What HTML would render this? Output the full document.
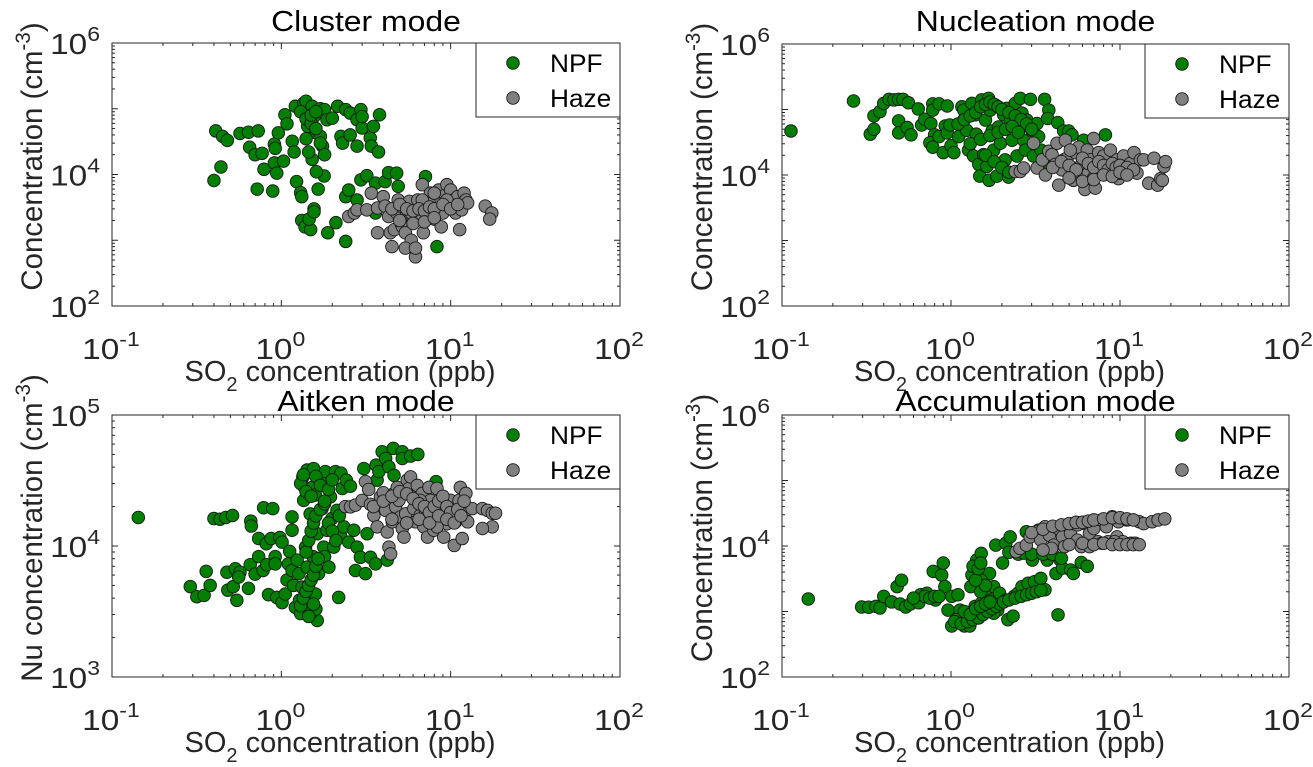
<!DOCTYPE html>
<html><head><meta charset="utf-8">
<style>
html,body{margin:0;padding:0;background:#fff;}
svg{display:block;font-family:"Liberation Sans",Arial,sans-serif;}
</style></head>
<body>
<svg id="chart" width="1313" height="767" viewBox="0 0 1313 767" xmlns="http://www.w3.org/2000/svg"></svg>
<script>
// ---- Panel 1: Cluster mode ----
const p1NpfX=[0.41,0.45,0.48,0.44,0.40,0.57,0.64,0.73,0.65,0.70,0.77,0.72,0.79,0.89,0.91,0.92,0.96,0.91,0.94,1.03,1.05,1.08,1.16,1.19,1.21,1.23,1.30,1.32,1.32,1.38,1.49,1.46,1.56,1.56,1.65,1.79,1.52,1.61,1.36,1.40,1.52,1.56,1.43,1.70,1.80,1.61,1.70,1.75,1.80,1.86,2.0,2.15,2.25,2.3,2.4,2.55,2.55,2.8,2.8,2.95,3.0,3.0,3.35,3.4,3.5,3.75,3.8,1.88,2.1,2.4,2.4,2.5,2.95,3.2,3.6,4.1,4.3,4.8,4.9,7.1,8.3,2.8,3.6,1.3,1.4,1.5,1.6,1.7,1.5,1.6,1.4,1.45];
const p1NpfY=[4.6e4,3.8e4,3.3e4,1.3e4,8.1e3,4.2e4,4.4e4,4.6e4,2.6e4,2.0e4,2.1e4,6.0e3,1.2e4,5.6e3,2.9e4,2.5e4,4.3e4,1.5e4,1.05e4,1.6e4,8.1e4,5.9e4,3.2e4,2.2e4,1.09e5,7.8e3,5.3e3,4.6e3,2.0e3,1.6e3,1.45e3,2.1e3,3.0e3,2.7e3,6.0e3,9.5e3,1.7e4,1.1e4,1.22e5,1.3e5,1.09e5,7.6e4,5.4e4,1.0e5,9.7e4,4.3e4,3.8e4,2.7e4,2.0e4,6.8e4,7.2e4,1.09e5,3.8e4,3.0e4,9.7e4,8.6e4,4.0e4,2.7e4,6.8e4,9.7e4,5.1e4,7.6e4,3.6e4,2.7e4,5.4e4,2.2e4,8.1e4,1.3e3,1.85e3,9.6e2,4.6e3,5.8e3,8.3e3,9.6e3,7.4e3,7.8e3,1.07e4,1.05e4,6.6e3,9.3e3,8e2,4.1e3,2.6e3,9e4,7e4,6e4,5e4,3e4,8e4,9e4,3.5e4,2.2e4];
const p1HazeX=[2.5,2.7,2.8,3.2,3.4,3.7,4.0,4.1,4.3,4.4,4.5,4.65,4.8,4.9,5.1,5.2,5.4,5.5,5.7,5.85,6.0,6.2,6.4,6.6,6.8,6.9,7.1,7.3,7.6,7.8,8.0,8.5,8.8,9.0,9.3,9.5,9.8,10.0,10.4,10.7,11,11.3,11.6,12,12.3,12.6,3.7,5.4,16,17.5,17,8.8,6.2,6.8,8.0,9.5,5.1,5.85,4.5,5,5.5,6,6.5,7,7.5,8,9,10,11,5,6,7,8];
const p1HazeY=[2.3e3,2.6e3,2.9e3,2.9e3,5.2e3,3.1e3,4.6e3,3.3e3,2.3e3,1.3e3,8e2,1.45e3,2.6e3,4.1e3,1.8e3,1.6e3,1.3e3,2.6e3,3.9e3,1.0e3,2.1e3,5.6e2,4.1e3,2.3e3,7.0e3,1.3e3,3.3e3,2.5e3,5.2e3,3.7e3,2.1e3,5.8e3,4.1e3,2.6e3,4.9e3,7.0e3,3.3e3,5.8e3,4.1e3,2.6e3,4.6e3,1.45e3,2.9e3,5.2e3,4.1e3,3.7e3,1.3e3,7.6e2,3.3e3,2.6e3,2.1e3,1.6e3,7.6e2,4.1e3,5.2e3,4.1e3,3.3e3,2.6e3,3e3,3.5e3,3e3,2.8e3,3e3,2.8e3,3.2e3,3e3,3.5e3,3e3,3.5e3,2e3,1.8e3,1.9e3,2.2e3];
// ---- Panel 2: Nucleation mode ----
const p2NpfX=[0.113,0.265,0.333,0.35,0.35,0.38,0.40,0.43,0.46,0.49,0.52,0.56,0.49,0.49,0.55,0.58,0.64,0.67,0.70,0.76,0.78,0.78,0.85,0.95,0.80,0.75,0.78,0.85,0.90,0.925,0.95,0.985,1.0,1.04,1.11,1.16,1.19,1.19,1.24,1.27,1.33,1.36,1.39,1.41,1.46,1.48,1.52,1.56,1.60,1.63,1.67,1.68,1.71,1.75,1.79,1.83,1.87,1.91,1.96,2.0,2.05,2.09,2.14,2.19,2.24,2.30,2.40,2.46,2.52,2.57,2.63,2.69,2.75,2.81,2.95,3.01,3.08,3.23,3.30,3.41,3.58,3.79,3.73,4.28,4.64,4.97,5.2,6.1,8.2,4.64,3.79,1.1,1.2,1.3,1.4,1.5,1.6,1.7,1.8,1.9,2.0,2.2,2.4,2.6,2.8,3.0,1.3,1.5,1.7,1.9,2.1,2.3,2.5,1.6,1.8,2.0,2.2];
const p2NpfY=[4.7e4,1.35e5,4.2e4,5.0e4,8.0e4,9.3e4,1.24e5,1.43e5,1.4e5,1.43e5,1.43e5,1.27e5,6.7e4,4.4e4,5.3e4,4.1e4,1.02e5,5.8e4,7.1e4,6.1e4,1.22e5,9.8e4,1.22e5,1.13e5,4.1e4,3.1e4,2.65e4,3.85e4,2.2e4,5.6e4,4.4e4,5.8e4,2.8e4,2.2e4,3.85e4,1.1e5,9.8e4,6.9e4,4.8e4,2.4e4,1.24e5,1.95e4,8.3e4,4.2e4,1.45e4,9.6e3,1.4e5,2.05e4,6.9e4,1.35e4,1.48e5,8.3e3,9.8e4,4.7e4,2.4e4,1.17e5,9.6e3,5.4e4,3.05e4,1.35e4,8.3e4,1.7e4,1.04e5,9.3e3,6.7e4,3.4e4,1.24e5,1.95e4,4.8e4,1.48e5,8.8e4,3.4e4,2.4e4,6.9e4,1.43e5,4.8e4,1.95e4,6.1e4,3.85e4,2.4e4,1.43e5,9.8e4,7.3e4,6.3e4,4.7e4,4.7e4,4.1e4,3.4e4,4.1e4,1.7e4,1.5e4,6e4,7e4,8e4,9e4,1.1e5,1.2e5,1.3e5,1.2e5,1.1e5,1e5,9e4,8e4,7e4,6e4,5e4,3e4,3.5e4,4e4,4.5e4,5e4,5.5e4,4.5e4,2e4,1.6e4,1.3e4,1.1e4];
const p2HazeX=[2.40,2.57,2.69,3.08,3.23,3.47,3.62,3.79,3.96,4.14,4.24,4.34,4.54,4.75,4.86,5.08,5.2,5.3,5.44,5.57,5.7,5.96,6.2,6.4,6.5,6.67,6.98,7.14,7.3,7.48,7.83,8.0,8.4,8.77,9.2,9.6,9.8,10.2,10.5,11.0,11.5,12.1,12.6,13.2,13.8,14.8,15.9,16.7,17.4,18.2,18.6,17.8,6.98,5.08,10.0,4,4.5,5,5.5,6,6.5,7,7.5,8,8.5,9,9.5,10,11,12,5,6,7,8,9,10,11];
const p2HazeY=[1.13e4,1.13e4,1.28e4,3.05e4,1.28e4,1.7e4,1.0e4,2.3e4,2.05e4,1.45e4,3.05e4,7.0e3,1.2e4,3.4e4,1.8e4,1.35e4,8.8e3,8.3e3,2.2e4,1.13e4,2.65e4,1.5e4,6.0e3,2.4e4,1.07e4,1.7e4,3.6e4,6.3e3,1.28e4,2.2e4,1.07e4,1.95e4,1.35e4,2.4e4,1.07e4,1.7e4,8.8e3,1.28e4,1.95e4,1.13e4,1.5e4,2.2e4,1.07e4,1.7e4,1.7e4,7.5e3,1.8e4,7.0e3,8.8e3,1.35e4,1.6e4,8.3e3,9.0e3,2.4e4,1.07e4,1.3e4,1.6e4,1.4e4,1.2e4,1.8e4,1.5e4,1.3e4,1.6e4,1.4e4,1.2e4,1.5e4,1.3e4,1.4e4,1.3e4,1.2e4,9e3,8e3,8.5e3,1e4,9.5e3,1.1e4,1e4];
// ---- Panel 3: Aitken mode ----
const p3NpfX=[0.143,0.40,0.435,0.47,0.515,0.66,0.665,0.786,0.89,0.735,0.815,0.87,0.98,1.01,1.157,1.157,0.29,0.317,0.35,0.36,0.38,0.477,0.483,0.52,0.535,0.546,0.57,0.56,0.64,0.655,0.70,0.735,0.78,0.82,0.84,0.92,0.92,0.94,1.01,1.055,1.08,1.10,1.12,1.157,1.18,1.21,1.24,1.27,1.28,1.30,1.325,1.34,1.355,1.37,1.39,1.42,1.42,1.45,1.47,1.48,1.52,1.54,1.55,1.59,1.59,1.63,1.63,1.66,1.70,1.74,1.78,1.80,1.82,1.86,1.91,1.95,1.99,2.04,2.09,2.13,2.18,2.23,2.25,2.29,2.34,2.42,2.50,2.56,2.68,2.74,2.80,2.93,3.07,3.14,3.21,3.36,3.60,3.63,3.68,3.77,3.94,4.13,4.22,4.32,4.58,4.63,5.18,5.18,5.8,6.4,8.2,1.3,1.35,1.4,1.45,1.5,1.55,1.6,1.65,1.4,1.45,1.5,1.55,1.6,1.7,1.8,1.9,2.0,2.1,2.2,1.3,1.35,1.4,1.5,1.6,1.7,1.8,1.9,2.0,1.5,1.6,1.45,1.55];
const p3NpfY=[1.65e4,1.62e4,1.6e4,1.65e4,1.71e4,1.55e4,1.42e4,1.96e4,1.93e4,1.14e4,1.04e4,1.14e4,1.16e4,1.07e4,1.32e4,1.67e4,4.9e3,4.1e3,4.2e3,6.4e3,5.0e3,6.3e3,4.6e3,4.9e3,6.7e3,3.85e3,6.3e3,5.8e3,4.75e3,7.2e3,6.1e3,8.3e3,6.5e3,7.2e3,4.25e3,8.3e3,7.3e3,4.05e3,3.7e3,4.3e3,5.5e3,7.3e3,9.1e3,6.5e3,5.0e3,3.4e3,7.8e3,6.15e3,3.85e3,3.05e3,4.85e3,3.37e4,2.23e4,2.8e4,9.8e3,3.8e4,6.9e3,4.3e3,3.4e3,1.76e4,2.8e4,8.3e3,3.9e4,2.45e4,4.3e3,1.24e4,2.7e3,6.15e3,3.18e4,1.93e4,9.8e3,8.3e3,3.7e4,1.32e4,6.9e3,2.37e4,1.62e4,9.8e3,3.7e4,1.87e4,4.05e3,1.21e4,3.6e4,2.75e4,1.4e4,3.18e4,1.07e4,2.86e4,1.32e4,6.5e3,9.8e3,8.2e3,3.9e4,6.15e3,1.24e4,8.2e3,7.3e3,4.14e4,3.18e4,3.7e4,5.24e4,4.66e4,7.8e3,4.02e4,5.56e4,3.46e4,5.24e4,4.66e4,4.86e4,5.0e4,3.1e4,3.5e3,4e3,4.5e3,5e3,5.5e3,6e3,7e3,8e3,9e3,1.1e4,1.3e4,1.5e4,1.7e4,1.9e4,2.1e4,1.5e4,1.3e4,1.1e4,1.7e4,3e4,3.5e4,2.6e4,2.4e4,3.4e4,2.9e4,2.2e4,2.7e4,3.2e4,3.1e3,3.3e3,2.9e3,3.6e3];
const p3HazeX=[2.39,2.56,2.74,3.0,3.14,3.28,3.36,3.52,3.68,3.85,4.0,4.13,4.22,4.32,4.42,4.52,4.63,4.73,4.84,4.95,5.06,5.18,5.3,5.42,5.54,5.67,5.8,5.93,6.06,6.2,6.35,6.5,6.6,6.8,6.95,7.1,7.3,7.45,7.6,7.8,7.96,8.2,8.3,8.7,8.9,9.1,9.5,9.8,10.0,10.5,10.7,11.2,11.4,11.7,12.0,12.3,12.6,13.4,15.4,16.5,17.6,18.4,17.6,15.4,8.3,6.6,3.5,4,4.5,5,5.5,6,6.5,7,7.5,8,8.5,9,9.5,10,11,12,4.5,5.5,6.5,7.5,8.5,9.5,10.5,11.5];
const p3HazeY=[2.0e4,1.99e4,2.05e4,2.23e4,3.1e4,2.7e4,2.08e4,1.71e4,1.4e4,2.37e4,2.55e4,1.87e4,1.28e4,9.8e3,8.7e3,1.53e4,2.52e4,1.99e4,2.8e4,2.23e4,1.67e4,1.36e4,1.17e4,1.76e4,3.18e4,2.75e4,3.37e4,2.37e4,1.93e4,1.53e4,2.9e4,2.1e4,1.71e4,2.52e4,1.4e4,1.87e4,1.17e4,2.8e4,2.23e4,1.62e4,1.32e4,1.96e4,2.75e4,1.71e4,2.23e4,1.17e4,1.48e4,1.93e4,2.23e4,1.01e4,1.53e4,2.23e4,2.8e4,1.14e4,1.76e4,2.52e4,1.53e4,1.93e4,1.93e4,1.87e4,1.78e4,1.78e4,1.4e4,1.36e4,1.4e4,2.23e4,2e4,2.2e4,2.4e4,2.6e4,2.5e4,2.3e4,2.1e4,2e4,1.8e4,2e4,2.2e4,2.4e4,2e4,1.8e4,1.9e4,2.2e4,1.6e4,1.5e4,1.6e4,1.5e4,1.7e4,1.6e4,1.5e4,1.7e4];
// ---- Panel 4: Accumulation mode ----
const p4NpfX=[0.143,0.296,0.326,0.36,0.38,0.40,0.445,0.48,0.51,0.50,0.54,0.575,0.645,0.66,0.72,0.785,0.81,0.88,0.90,0.92,0.96,1.01,1.10,1.13,1.2,1.29,1.31,1.33,1.36,1.39,1.42,1.46,1.51,1.55,1.59,1.64,1.69,1.74,1.79,1.84,1.89,1.94,2.02,2.11,2.17,2.24,2.33,2.36,2.49,2.63,2.79,2.86,3.03,3.12,3.3,3.4,3.6,3.71,3.82,4.18,4.3,4.43,4.57,5.1,5.3,5.9,6.4,1.51,1.35,1.13,1.29,1.42,1.79,2.11,1.01,1.07,1.51,1.05,1.15,1.25,1.35,1.45,1.55,1.65,1.75,1.85,1.95,2.05,2.2,2.4,2.6,2.8,3.0,3.2,3.4,1.2,1.3,1.4,1.5,1.6,1.7,1.5,1.6,1.4,2.2,2.5,2.7,3.0,3.5,4.0,4.5,0.7,0.75,0.8,0.85,0.6,1.45,1.5];
const p4NpfY=[1.55e3,1.17e3,1.16e3,1.2e3,1.13e3,1.7e3,1.4e3,2.4e3,3.0e3,1.3e3,1.17e3,1.3e3,1.36e3,1.8e3,1.9e3,4.1e3,1.5e3,3.6e3,5.5e3,2.4e3,1.05e3,1.7e3,1.8e3,1.05e3,6.0e2,7.2e2,2.4e3,3.6e3,4.9e3,1.2e3,6.1e3,8.0e2,7.7e3,2.7e3,1.9e3,1.05e3,3.8e3,1.5e3,2.4e3,1.03e4,1.05e3,1.9e3,5.5e3,1.1e4,7.5e2,1.38e4,8.5e2,1.7e3,1.9e3,2.4e3,1.65e4,2.7e3,6.1e3,2.85e3,1.75e4,3.2e3,2.15e3,6.1e3,7.7e3,3.8e3,8.9e2,6.1e3,4.6e3,4.3e3,3.8e3,5.6e3,4.9e3,3.0e3,4.9e3,7.5e2,6.0e2,9.4e2,9.4e2,1.5e3,6.0e2,7.5e2,1.33e3,700,650,700,750,800,900,1000,1100,1200,1300,1400,1500,1600,1700,1800,1900,2000,2100,1000,900,1100,1200,1300,1400,2000,2500,3000,8000,7500,7800,7500,7500,7500,6500,1700,1600,1700,1700,1600,4500,5500];
const p4HazeX=[2.43,2.56,2.79,2.94,3.21,3.4,3.6,3.82,4.06,4.3,4.57,4.85,5.1,5.3,5.6,5.9,6.2,6.6,7.0,7.4,7.8,8.3,8.5,9.0,9.6,9.8,10.4,11.0,11.6,12.3,13.0,13.8,15.5,16.8,18.4,7.8,9.3,5.6,3.94,4.7,3.5,6.6,3.0,3.5,4,4.5,5,5.5,6,6.5,7,8,9,10,11,12,5,6,7,8,9,10,11,12,13];
const p4HazeY=[8.2e3,9.2e3,1.03e4,1.38e4,1.65e4,1.23e4,1.97e4,1.46e4,1.03e4,1.85e4,1.38e4,2.1e4,1.55e4,2.2e4,1.23e4,9.8e3,2.2e4,1.55e4,1.85e4,1.16e4,2.5e4,1.97e4,1.16e4,2.8e4,1.38e4,2.35e4,1.16e4,2.5e4,1.1e4,1.1e4,2.35e4,2.2e4,2.35e4,2.5e4,2.6e4,1.1e4,1.16e4,2.1e4,9.2e3,9.8e3,8.7e3,9.8e3,1.6e4,1.8e4,2e4,2.1e4,2.2e4,2.3e4,2.3e4,2.4e4,2.5e4,2.6e4,2.7e4,2.7e4,2.6e4,2.5e4,1.05e4,1.1e4,1.05e4,1.1e4,1.05e4,1.05e4,1.05e4,1.05e4,1.05e4];

const NS='http://www.w3.org/2000/svg';
const svg=document.getElementById('chart');
function mk(tag,attrs,parent){const e=document.createElementNS(NS,tag);for(const k in attrs)e.setAttribute(k,attrs[k]);(parent||svg).appendChild(e);return e;}
function stretch(el,f){try{const l=el.getComputedTextLength();if(l>0){el.setAttribute('textLength',(l*f).toFixed(1));el.setAttribute('lengthAdjust','spacingAndGlyphs');}}catch(e){}}

const panels=[
 {key:'cluster',title:'Cluster mode',ylab:'Concentration (cm',L:112,R:620,T:43,B:306,ymin:2,ymax:6,yticks:[2,4,6],titleY:31,npfX:p1NpfX,npfY:p1NpfY,hzX:p1HazeX,hzY:p1HazeY},
 {key:'nucleation',title:'Nucleation mode',ylab:'Concentration (cm',L:782,R:1289,T:44,B:306,ymin:2,ymax:6,yticks:[2,4,6],titleY:31,npfX:p2NpfX,npfY:p2NpfY,hzX:p2HazeX,hzY:p2HazeY},
 {key:'aitken',title:'Aitken mode',ylab:'Nu concentration (cm',L:112,R:620,T:415,B:677,ymin:3,ymax:5,yticks:[3,4,5],titleY:411,npfX:p3NpfX,npfY:p3NpfY,hzX:p3HazeX,hzY:p3HazeY},
 {key:'accumulation',title:'Accumulation mode',ylab:'Concentration (cm',L:782,R:1289,T:415,B:677,ymin:2,ymax:6,yticks:[2,4,6],titleY:411,npfX:p4NpfX,npfY:p4NpfY,hzX:p4HazeX,hzY:p4HazeY}
];

panels.forEach(p=>{
  const g=mk('g',{});
  
  
  const sx=v=>p.L+(Math.log10(v)+1)/3*(p.R-p.L);
  const sy=v=>p.B-(Math.log10(v)-p.ymin)/(p.ymax-p.ymin)*(p.B-p.T);
  const t=mk('text',{x:(p.L+p.R)/2,y:p.titleY,'text-anchor':'middle','font-size':29,fill:'#000'},g);
  t.textContent=p.title;
  
  
  stretch(t,1.1);
  const fr=mk('rect',{x:p.L,y:p.T,width:p.R-p.L,height:p.B-p.T,fill:'#fff',stroke:'#262626','stroke-width':1},g);
  
  
  const xt=mk('g',{stroke:'#262626','stroke-width':1},g);
  
  
  for(let d=-1;d<=2;d++){
    for(let m=1;m<=9;m++){
      if(d===2&&m>1)break;
      const v=m*Math.pow(10,d);const x=sx(v);const len=m===1?6:3;
      mk('line',{x1:x,y1:p.B,x2:x,y2:p.B-len},xt);
      mk('line',{x1:x,y1:p.T,x2:x,y2:p.T+len},xt);
    }
  }
  for(let d=p.ymin;d<=p.ymax;d++){
    for(let m=1;m<=9;m++){
      if(d===p.ymax&&m>1)break;
      const v=m*Math.pow(10,d);const y=sy(v);const len=m===1?6:3;
      mk('line',{x1:p.L,y1:y,x2:p.L+len,y2:y},xt);
      mk('line',{x1:p.R,y1:y,x2:p.R-len,y2:y},xt);
    }
  }
  [-1,0,1,2].forEach(e=>{
    const tx=mk('text',{x:sx(Math.pow(10,e))-1,y:p.B+53,'text-anchor':'middle','font-size':29,fill:'#262626'},g);
    
    
    tx.innerHTML='10<tspan font-size="20" dy="-13">'+e+'</tspan>';
    stretch(tx,1.15);
  });
  p.yticks.forEach(e=>{
    const ty=mk('text',{x:p.L-12,y:sy(Math.pow(10,e))+11,'text-anchor':'end','font-size':29,fill:'#262626'},g);
    
    
    ty.innerHTML='10<tspan font-size="20" dy="-13">'+e+'</tspan>';
    stretch(ty,1.15);
  });
  const xl=mk('text',{x:(p.L+p.R)/2-26,y:p.B+75,'text-anchor':'middle','font-size':29,fill:'#262626'},g);
  
  
  xl.innerHTML='SO<tspan font-size="20" dy="10">2</tspan><tspan dy="-10"> concentration (ppb)</tspan>';
  stretch(xl,1.0);
  const cx=p.L-70, cy=(p.T+p.B)/2-18;
  const yl=mk('text',{x:cx,y:cy,'text-anchor':'middle','font-size':30,fill:'#262626',transform:'rotate(-90 '+cx+' '+cy+')'},g);
  
  
  yl.innerHTML=p.ylab+'<tspan font-size="21" dy="-12">-3</tspan><tspan dy="12">)</tspan>';
  stretch(yl,0.98);
  const drawSeries=(xs,ys,fill,name)=>{
    const sg=mk('g',{},g);
    
    
    for(let i=0;i<xs.length;i++){
      const c=mk('circle',{cx:sx(xs[i]),cy:sy(ys[i]),r:6.3,fill:fill,stroke:'#1a1a1a','stroke-width':0.9},sg);
      
      
    }
  };
  drawSeries(p.npfX,p.npfY,'#007f00','npf');
  drawSeries(p.hzX,p.hzY,'#808080','haze');
  const lg=mk('g',{},g);
  
  
  const lx=p.R-144, ly=p.T;
  mk('rect',{x:lx,y:ly,width:144,height:74,fill:'#fff',stroke:'#262626','stroke-width':1},lg);
  [['NPF','#007f00',20],['Haze','#808080',55]].forEach(([lab,col,dy])=>{
    const le=mk('g',{},lg);
    
    
    mk('circle',{cx:lx+37,cy:ly+dy,r:6.3,fill:col,stroke:'#1a1a1a','stroke-width':0.9},le);
    const tt=mk('text',{x:lx+74,y:ly+dy+9,'font-size':25,fill:'#000'},le);
    tt.textContent=lab;
    stretch(tt,1.05);
  });
});
</script>
</body></html>
